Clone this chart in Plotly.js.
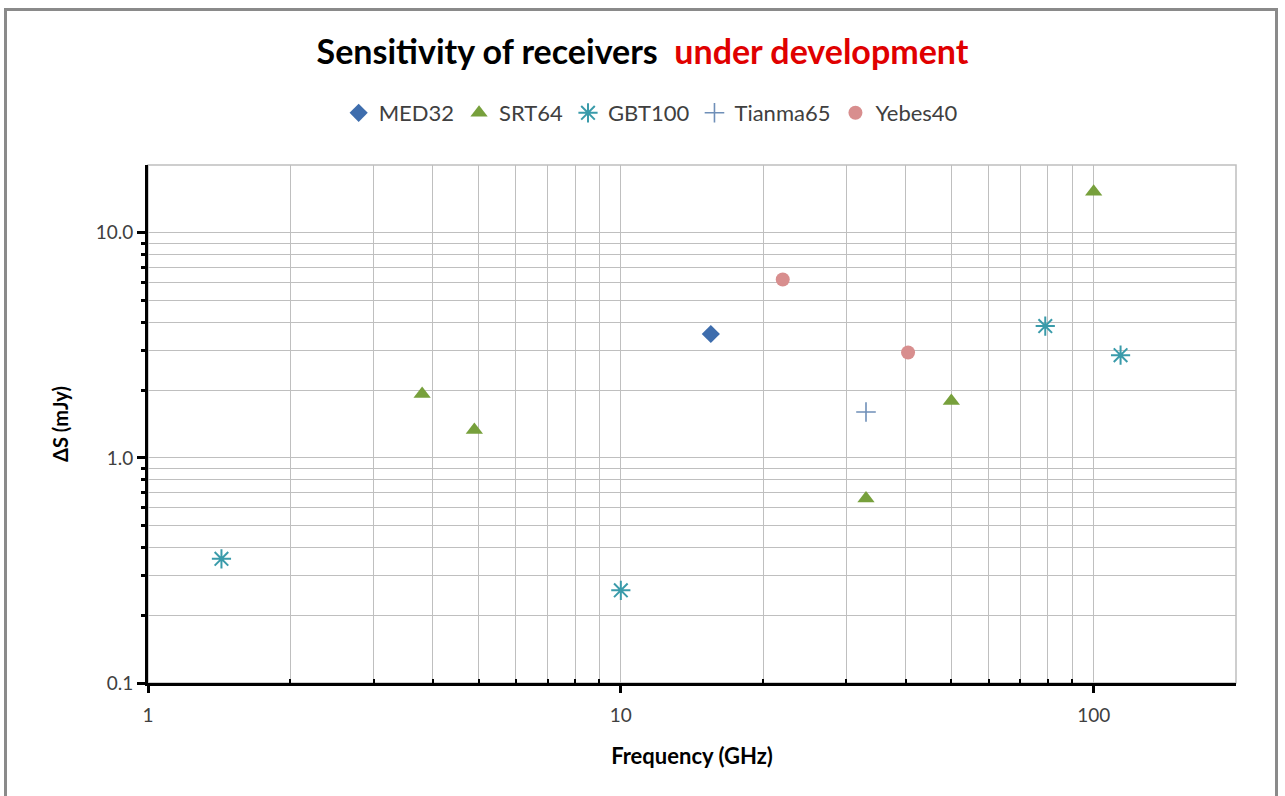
<!DOCTYPE html>
<html>
<head>
<meta charset="utf-8">
<script src="https://cdn.plot.ly/plotly-3.0.1.min.js"></script>
<style>
  html, body { margin: 0; padding: 0; background: #ffffff; }
  #chart { width: 1285px; height: 796px; }
  #frame { position: absolute; left: 4px; top: 8px; width: 1274px; height: 800px;
           border: 3px solid #8a8a8a; pointer-events: none; box-sizing: border-box; }
</style>
</head>
<body>
<div id="chart"></div>
<div id="frame"></div>
<script>
// ---- data ----
const seriesNames = ["MED32", "SRT64", "GBT100", "Tianma65", "Yebes40"];

const med32Freq = [15.5];
const med32Sens = [3.55];

const srt64Freq = [3.8, 4.9, 33, 50, 100];
const srt64Sens = [1.92, 1.33, 0.66, 1.79, 15.2];

const gbt100Freq = [1.43, 10, 79, 114];
const gbt100Sens = [0.356, 0.258, 3.85, 2.86];

const tianma65Freq = [33];
const tianma65Sens = [1.6];

const yebes40Freq = [22, 40.5];
const yebes40Sens = [6.2, 2.94];

const xMajorTicks = [1, 10, 100];
const xMajorLabels = ["1", "10", "100"];
const xMinorTicks = [2, 3, 4, 5, 6, 7, 8, 9, 20, 30, 40, 50, 60, 70, 80, 90];
const yMajorTicks = [0.1, 1, 10];
const yMajorLabels = ["0.1", "1.0", "10.0"];
const yMinorTicks = [0.2, 0.3, 0.4, 0.5, 0.6, 0.7, 0.8, 0.9, 2, 3, 4, 5, 6, 7, 8, 9];

// ---- traces ----
const traces = [
  { name: seriesNames[0], x: med32Freq, y: med32Sens, type: "scatter", mode: "markers",
    marker: { symbol: "diamond", size: 14, color: "#3E6DAD" } },
  { name: seriesNames[1], x: srt64Freq, y: srt64Sens, type: "scatter", mode: "markers",
    marker: { symbol: "triangle-up", size: 15, color: "#77A03C" } },
  { name: seriesNames[2], x: gbt100Freq, y: gbt100Sens, type: "scatter", mode: "markers",
    marker: { symbol: "asterisk-open", size: 16, color: "#3A9BAA", line: { color: "#3A9BAA", width: 2 } } },
  { name: seriesNames[3], x: tianma65Freq, y: tianma65Sens, type: "scatter", mode: "markers",
    marker: { symbol: "cross-thin-open", size: 14, color: "#6F8FB8", line: { color: "#6F8FB8", width: 1.6 } } },
  { name: seriesNames[4], x: yebes40Freq, y: yebes40Sens, type: "scatter", mode: "markers",
    marker: { symbol: "circle", size: 14, color: "#D88E8E" } }
];

const gridColor = "#BFBFBF";
const tickFont = { family: "Lato, Carlito, 'Open Sans', sans-serif", size: 19, color: "#404040" };

const layout = {
  width: 1285, height: 796,
  paper_bgcolor: "#ffffff", plot_bgcolor: "#ffffff",
  margin: { l: 148, r: 49, t: 165, b: 113 },
  font: { family: "Lato, Carlito, 'Open Sans', sans-serif", color: "#404040" },
  title: {
    text: "<b>Sensitivity of receivers&nbsp; <span style='color:#E00000'>under development</span></b>",
    font: { family: "Lato, Carlito, sans-serif", size: 34, color: "#000000" },
    x: 0.5, xanchor: "center", y: 1 - 52 / 796, yanchor: "middle"
  },
  showlegend: true,
  legend: {
    orientation: "h", x: 0.462, xanchor: "center", y: 1 + (165 - 113) / 518, yanchor: "middle",
    font: { family: "Lato, Carlito, sans-serif", size: 22, color: "#404040" },
    bgcolor: "rgba(0,0,0,0)", itemwidth: 30, tracegroupgap: 0
  },
  xaxis: {
    type: "log", range: [0, Math.log10(200)],
    tickmode: "array", tickvals: xMajorTicks, ticktext: xMajorLabels,
    ticks: "outside", ticklen: 7, tickwidth: 3, tickcolor: "#000000",
    tickfont: tickFont, ticklabelstandoff: 6,
    showline: true, linecolor: "#000000", linewidth: 3,
    showgrid: true, gridcolor: gridColor, gridwidth: 1,
    zeroline: false,
    minor: { tickmode: "array", tickvals: xMinorTicks, ticks: "inside", ticklen: 4, tickwidth: 2,
             tickcolor: "#000000", showgrid: true, gridcolor: gridColor, gridwidth: 1 },
    title: { text: "<b>Frequency (GHz)</b>", font: { family: "Lato, Carlito, sans-serif", size: 22, color: "#000000" }, standoff: 24 }
  },
  yaxis: {
    type: "log", range: [-1, Math.log10(20)],
    tickmode: "array", tickvals: yMajorTicks, ticktext: yMajorLabels,
    ticks: "outside", ticklen: 8, tickwidth: 3, tickcolor: "#000000",
    tickfont: tickFont,
    showline: true, linecolor: "#000000", linewidth: 3,
    showgrid: true, gridcolor: gridColor, gridwidth: 1,
    zeroline: false,
    minor: { tickmode: "array", tickvals: yMinorTicks, ticks: "outside", ticklen: 4, tickwidth: 3,
             tickcolor: "#000000", showgrid: true, gridcolor: gridColor, gridwidth: 1 },
    title: { text: "<b>ΔS (mJy)</b>", font: { family: "Lato, Carlito, sans-serif", size: 20, color: "#000000" }, standoff: 22 }
  },
  shapes: [
    { type: "rect", xref: "paper", yref: "paper", x0: 0, x1: 1, y0: 0, y1: 1,
      line: { color: gridColor, width: 1.5 }, layer: "below" }
  ]
};

Plotly.newPlot("chart", traces, layout, { displayModeBar: false, staticPlot: true });
</script>
</body>
</html>
